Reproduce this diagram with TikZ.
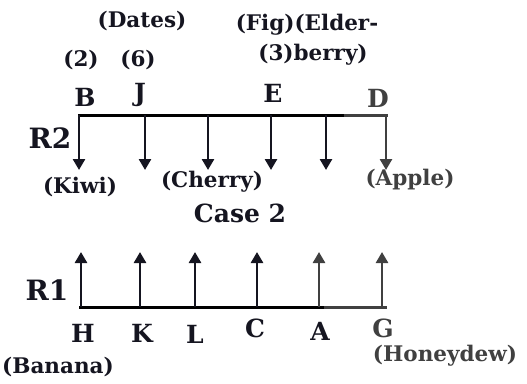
\documentclass[tikz,border=0pt]{standalone}
\usepackage{fontspec}
\setmainfont{DejaVu Serif}
\usetikzlibrary{arrows.meta}
\definecolor{ink}{HTML}{151520}
\definecolor{fade}{HTML}{404040}
\tikzset{
  lbl/.style={inner sep=0pt, text=ink, font=\bfseries\fontsize{21.5}{23}\selectfont},
  big/.style={inner sep=0pt, text=ink, font=\bfseries\fontsize{25}{27}\selectfont},
  rowlbl/.style={inner sep=0pt, text=ink, font=\bfseries\fontsize{28}{30}\selectfont},
  rail/.style={line width=3pt, line cap=rect},
  arr/.style={line width=2.6pt, -{Triangle[width=12pt,length=11pt]}},
}
\begin{document}
\begin{tikzpicture}[x=1pt,y=-1pt]
\useasboundingbox (0,0) rectangle (527,383);
% R2 rail
\coordinate (r2a) at (79,115);
\coordinate (r2m) at (345,115);
\coordinate (r2b) at (386,115);
\draw[rail] (r2a) -- (r2m);
\draw[rail,fade] (r2m) -- (r2b);
\foreach \n/\x/\c in {1/79/ink,2/145/ink,3/208/ink,4/271/ink,5/326/ink,6/386/fade}{
  \coordinate (t\n) at (\x,115);
  \coordinate (d\n) at (\x,170);
  \draw[arr,draw=\c,fill=\c] (t\n) -- (d\n);
}
% R1 rail
\coordinate (r1a) at (80,307);
\coordinate (r1m) at (325,307);
\coordinate (r1b) at (385,307);
\draw[rail] (r1a) -- (r1m);
\draw[rail,fade] (r1m) -- (r1b);
\foreach \n/\x/\c in {1/81/ink,2/140/ink,3/195/ink,4/257/ink,5/319/fade,6/382/fade}{
  \coordinate (b\n) at (\x,307);
  \coordinate (u\n) at (\x,252);
  \draw[arr,draw=\c,fill=\c] (b\n) -- (u\n);
}
% Row labels
\node[rowlbl] (R2) at (50,138) {R2};
\node[rowlbl] (R1) at (47,290) {R1};
\node[big] (case) at (240,213) {Case 2};
% top letters
\node[big] (B) at (85,97) {B};
\node[big] (J) at (140,95) {J};
\node[big] (E) at (273,93) {E};
\node[big,text=fade] (D) at (378,98) {D};
\node[lbl] (n2) at (81,60) {(2)};
\node[lbl] (n6) at (138,60) {(6)};
\node[lbl] (dates) at (142,21) {(Dates)};
\node[lbl] (fig) at (307,25) {(Fig)(Elder-};
\node[lbl] (berry) at (313,55) {(3)berry)};
\node[lbl] (kiwi) at (80,187) {(Kiwi)};
\node[lbl] (cherry) at (212,182) {(Cherry)};
\node[lbl,text=fade] (apple) at (410,180) {(Apple)};
% bottom letters
\node[big] (H) at (83,333) {H};
\node[big] (K) at (142,333) {K};
\node[big] (L) at (195,334) {L};
\node[big] (C) at (255,328) {C};
\node[big] (A) at (320,331) {A};
\node[big,text=fade] (G) at (383,328) {G};
\node[lbl] (banana) at (58,367) {(Banana)};
\node[lbl,text=fade] (honey) at (445,356) {(Honeydew)};
\end{tikzpicture}
\end{document}
